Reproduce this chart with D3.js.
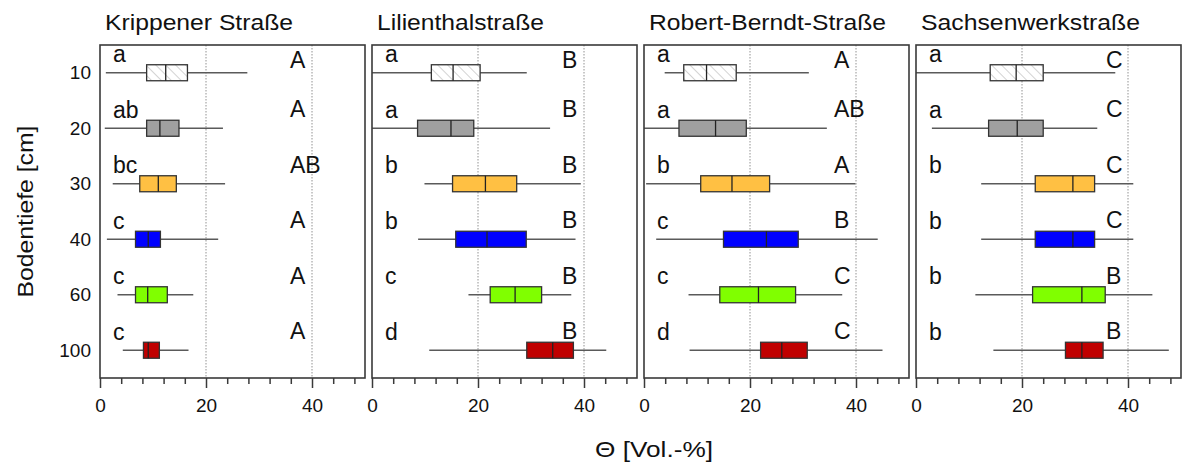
<!DOCTYPE html>
<html>
<head>
<meta charset="utf-8">
<style>
body { margin: 0; background: #fff; }
svg { display: block; }
text { font-family: "Liberation Sans", Arial, sans-serif; fill: #111; }
.title { font-size: 22px; }
.tick-label { font-size: 19px; }
.sig { font-size: 23px; }
.whisker { stroke: #5a5a5a; stroke-width: 1.5; }
.box { stroke: #333; stroke-width: 1.3; }
.median { stroke: #222; stroke-width: 1.3; }
.grid { stroke: #777; stroke-width: 0.8; stroke-dasharray: 1.5,1.5; }
.frame { fill: none; stroke: #3a3a3a; stroke-width: 1.6; }
.xaxis line { stroke: #3a3a3a; stroke-width: 1.5; }
.xaxis text { font-family: "Liberation Sans", Arial, sans-serif; font-size: 19px; fill: #111; }
</style>
<script src="https://d3js.org/d3.v7.min.js"></script>
</head>
<body>
<svg width="1183" height="464"></svg>
<script>
// soil depths (cm) and the four streets
var depths = ["10", "20", "30", "40", "60", "100"];
var streets = ["Krippener Straße", "Lilienthalstraße", "Robert-Berndt-Straße", "Sachsenwerkstraße"];

// [whisker low, q1, median, q3, whisker high] per depth, Θ in Vol.-%
var krippener    = [[1.1, 8.8, 12.4, 16.5, 27.8], [0.9, 8.8, 11.3, 14.9, 23.2], [2.4, 7.5, 11.0, 14.4, 23.6],
                    [1.3, 6.7, 9.1, 11.4, 22.3], [3.3, 6.7, 9.0, 12.7, 17.6], [4.3, 8.2, 9.1, 11.2, 16.7]];
var lilienthal   = [[0.0, 11.2, 15.3, 20.4, 29.2], [0.0, 8.6, 14.9, 19.2, 33.6], [9.9, 15.2, 21.4, 27.3, 39.4],
                    [8.7, 15.8, 21.7, 29.1, 38.4], [18.2, 22.3, 27.0, 32.0, 37.6], [10.8, 29.2, 34.1, 38.0, 44.2]];
var robertBerndt = [[3.9, 7.5, 11.8, 17.4, 31.1], [0.0, 6.6, 13.5, 19.3, 34.5], [0.4, 10.7, 16.6, 23.7, 39.9],
                    [2.3, 15.0, 23.1, 29.1, 44.1], [8.4, 14.3, 21.6, 28.6, 37.4], [8.6, 22.0, 26.0, 30.8, 45.0]];
var sachsenwerk  = [[0.0, 14.0, 18.9, 24.0, 37.6], [3.0, 13.7, 19.1, 24.0, 34.2], [12.3, 22.5, 29.6, 33.7, 41.0],
                    [12.3, 22.5, 29.6, 33.7, 41.0], [11.2, 22.0, 31.3, 35.7, 44.6], [14.6, 28.2, 31.3, 35.3, 47.7]];

// significance letters: lower = between depths, upper = between streets
var lowerLetters = [["a", "ab", "bc", "c", "c", "c"], ["a", "a", "b", "b", "c", "d"],
                    ["a", "a", "b", "c", "c", "d"], ["a", "a", "b", "b", "b", "b"]];
var upperLetters = [["A", "A", "AB", "A", "A", "A"], ["B", "B", "B", "B", "B", "B"],
                    ["A", "AB", "A", "B", "C", "C"], ["C", "C", "C", "C", "B", "B"]];

var xTicks = d3.range(0, 50, 4);
var xLabels = [0, 20, 40];
var boxColors = ["url(#hatch)", "#a0a0a0", "#ffc043", "#0000ff", "#80ff00", "#c00000"];

var series = [krippener, lilienthal, robertBerndt, sachsenwerk];
var titleWidths = [188, 167, 237, 219];

var svg = d3.select("svg");
var plotTop = 45, plotBottom = 378, panelW = 265, panelStep = 272, firstLeft = 100;

var pat = svg.append("defs").append("pattern")
    .attr("id", "hatch")
    .attr("patternUnits", "userSpaceOnUse")
    .attr("width", 7).attr("height", 7)
    .attr("patternTransform", "rotate(-45)");
pat.append("rect").attr("width", 7).attr("height", 7).attr("fill", "#fff");
pat.append("line").attr("x1", 0).attr("y1", 0).attr("x2", 0).attr("y2", 7)
    .attr("stroke", "#b5b5b5").attr("stroke-width", 1.2);

var x = d3.scaleLinear().domain([0, 50]).range([0, panelW]);
var y = d3.scaleBand().domain(depths).range([plotTop, plotBottom]);
var half = 8;

streets.forEach(function(name, i) {
    var left = firstLeft + i * panelStep;
    var g = svg.append("g").attr("transform", "translate(" + left + ",0)");

    g.append("text").attr("class", "title")
        .attr("x", 5).attr("y", 30)
        .attr("textLength", titleWidths[i]).attr("lengthAdjust", "spacingAndGlyphs")
        .text(name);

    // dotted grid
    g.selectAll(".grid").data([20, 40]).enter().append("line")
        .attr("class", "grid")
        .attr("x1", x).attr("x2", x)
        .attr("y1", plotTop).attr("y2", plotBottom);

    // x axis, ticks every 4, labels at 0/20/40
    var ax = g.append("g").attr("class", "xaxis")
        .attr("transform", "translate(0," + plotBottom + ")")
        .call(d3.axisBottom(x)
            .tickValues(xTicks)
            .tickSize(6)
            .tickSizeOuter(0)
            .tickFormat(function(d) { return xLabels.indexOf(d) >= 0 ? d : ""; }));
    ax.select(".domain").remove();
    ax.selectAll(".tick line").attr("y2", function(d) { return xLabels.indexOf(d) >= 0 ? 10 : 6; });
    ax.selectAll(".tick text").attr("y", 34).attr("dy", null);

    var rows = g.selectAll(".row").data(series[i]).enter().append("g").attr("class", "row");
    var cy = function(d, j) { return y(depths[j]) + y.bandwidth() / 2; };

    rows.append("line").attr("class", "whisker")
        .attr("x1", function(d) { return x(d[0]); })
        .attr("x2", function(d) { return x(d[4]); })
        .attr("y1", cy).attr("y2", cy);
    rows.append("rect").attr("class", "box")
        .attr("x", function(d) { return x(d[1]); })
        .attr("width", function(d) { return x(d[3]) - x(d[1]); })
        .attr("y", function(d, j) { return cy(d, j) - half; })
        .attr("height", half * 2)
        .attr("fill", function(d, j) { return boxColors[j]; });
    rows.append("line").attr("class", "median")
        .attr("x1", function(d) { return x(d[2]); })
        .attr("x2", function(d) { return x(d[2]); })
        .attr("y1", function(d, j) { return cy(d, j) - half; })
        .attr("y2", function(d, j) { return cy(d, j) + half; });

    rows.append("text").attr("class", "sig")
        .attr("x", 13)
        .attr("y", function(d, j) { return cy(d, j) - 10.5; })
        .text(function(d, j) { return lowerLetters[i][j]; });
    rows.append("text").attr("class", "sig")
        .attr("x", 190)
        .attr("y", function(d, j) { return j === 0 ? 68 : cy(d, j) - 11; })
        .text(function(d, j) { return upperLetters[i][j]; });

    g.append("rect").attr("class", "frame")
        .attr("x", 0).attr("y", plotTop)
        .attr("width", panelW).attr("height", plotBottom - plotTop);
});

// y tick labels
svg.selectAll(".ylab").data(depths).enter().append("text")
    .attr("class", "tick-label")
    .attr("x", 91)
    .attr("y", function(d) { return y(d) + y.bandwidth() / 2 + 6.5; })
    .attr("text-anchor", "end")
    .text(function(d) { return d; });

svg.append("text").attr("class", "title")
    .attr("transform", "translate(33," + (plotTop + plotBottom) / 2 + ") rotate(-90)")
    .attr("text-anchor", "middle")
    .attr("textLength", 172).attr("lengthAdjust", "spacingAndGlyphs")
    .text("Bodentiefe [cm]");

svg.append("text").attr("class", "title")
    .attr("x", 654).attr("y", 457)
    .attr("text-anchor", "middle")
    .attr("textLength", 118).attr("lengthAdjust", "spacingAndGlyphs")
    .text("Θ [Vol.-%]");
</script>
</body>
</html>
